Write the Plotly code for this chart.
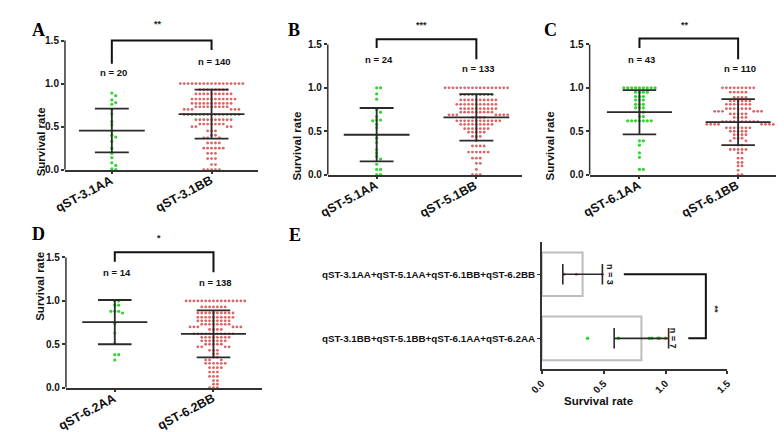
import plotly.graph_objects as go

W, H = 784, 432

# ---------------- data ----------------
A_groups = ["qST-3.1AA", "qST-3.1BB"]
A_AA_values = [0.89, 0.86, 0.81, 0.78, 0.76, 0.70, 0.65, 0.56, 0.52, 0.45,
               0.40, 0.38, 0.33, 0.25, 0.19, 0.14, 0.08, 0.05, 0.01, 0.0]
A_BB_levels = [1.0, 0.93, 0.88, 0.82, 0.77, 0.73, 0.70, 0.64, 0.58, 0.53,
               0.50, 0.45, 0.40, 0.37, 0.31, 0.25, 0.19, 0.13, 0.06, 0.0]
A_BB_counts = [17, 8, 10, 12, 11, 9, 6, 15, 10, 7, 4, 3, 2, 3, 4, 6, 3, 3, 2, 5]
A_means = [0.455, 0.645]
A_sds = [0.254, 0.284]
A_n = [20, 140]
A_sig = "**"

B_groups = ["qST-5.1AA", "qST-5.1BB"]
B_AA_values = [1.0, 1.0, 0.93, 0.87, 0.75, 0.72, 0.67, 0.63, 0.63, 0.62, 0.58, 0.54,
               0.46, 0.42, 0.37, 0.29, 0.25, 0.21, 0.18, 0.12, 0.06, 0.06, 0.0, 0.0]
B_BB_levels = [1.0, 0.92, 0.86, 0.81, 0.76, 0.72, 0.69, 0.66, 0.62, 0.58,
               0.53, 0.49, 0.44, 0.39, 0.33, 0.26, 0.19, 0.13, 0.06, 0.0]
B_BB_counts = [17, 9, 10, 11, 10, 9, 7, 4, 12, 9, 7, 5, 3, 1, 4, 6, 3, 2, 1, 3]
B_means = [0.46, 0.66]
B_sds = [0.308, 0.267]
B_n = [24, 133]
B_sig = "***"

C_groups = ["qST-6.1AA", "qST-6.1BB"]
C_AA_levels = [1.0, 0.95, 0.90, 0.86, 0.81, 0.77, 0.72, 0.67, 0.62, 0.39, 0.34, 0.25, 0.20, 0.06]
C_AA_counts = [9, 4, 3, 3, 3, 3, 2, 2, 7, 2, 1, 1, 1, 2]
C_BB_levels = [1.0, 0.95, 0.89, 0.85, 0.81, 0.76, 0.73, 0.70, 0.66, 0.61, 0.58, 0.54,
               0.50, 0.46, 0.42, 0.39, 0.34, 0.29, 0.25, 0.19, 0.14, 0.10, 0.05, 0.0]
C_BB_counts = [9, 5, 4, 6, 7, 7, 6, 5, 4, 10, 8, 7, 5, 4, 3, 2, 2, 5, 2, 2, 2, 2, 1, 2]
C_means = [0.72, 0.605]
C_sds = [0.255, 0.265]
C_n = [43, 110]
C_sig = "**"

D_groups = ["qST-6.2AA", "qST-6.2BB"]
D_AA_values = [1.0, 1.0, 0.95, 0.95, 0.88, 0.88, 0.88, 0.86, 0.74, 0.63, 0.51, 0.38, 0.38, 0.32]
D_BB_levels = [1.0, 0.93, 0.86, 0.81, 0.77, 0.73, 0.70, 0.67, 0.62, 0.58, 0.54, 0.50,
               0.47, 0.43, 0.39, 0.35, 0.32, 0.28, 0.23, 0.18, 0.13, 0.08, 0.04, 0.0]
D_BB_counts = [16, 7, 10, 10, 9, 8, 6, 4, 11, 8, 7, 5, 4, 3, 2, 2, 3, 6, 4, 3, 3, 2, 2, 3]
D_means = [0.755, 0.62]
D_sds = [0.255, 0.27]
D_n = [14, 138]
D_sig = "*"

E_groups = ["qST-3.1BB+qST-5.1BB+qST-6.1AA+qST-6.2AA",
            "qST-3.1AA+qST-5.1AA+qST-6.1BB+qST-6.2BB"]
E_values_0 = [0.37, 0.62, 0.87, 0.89, 0.94, 0.95, 1.0]
E_values_1 = [0.18, 0.28, 0.49]
E_means = [0.805, 0.33]
E_sds = [0.22, 0.16]
E_n = [7, 3]
E_sig = "**"

# ---------------- styles ----------------
GREEN = "#33d433"
RED = "#dc6464"
DARK = "#2a2a2a"
AXC = "#333333"
FONT = "Liberation Sans"
SERIF = "Liberation Serif"
XLAB_ANGLE = -28
XLAB_SIZE = 12.5


def bold(lst):
    return [f"<b>{t}</b>" for t in lst]


def expand(levels, counts):
    out = []
    for v, c in zip(levels, counts):
        out += [v] * c
    return out


def swarm(values, xpx, ypx, step=4.0, r=2.8):
    placed = []
    offs = [0.0] * len(values)
    order = sorted(range(len(values)), key=lambda i: -values[i])
    cands = [0.0]
    for j in range(1, 80):
        cands += [j * step, -j * step]
    for i in order:
        y = values[i] * ypx
        for c in cands:
            if all((c - px) ** 2 + (y - py) ** 2 >= r * r for px, py in placed):
                break
        placed.append((c, y))
        offs[i] = c / xpx
    return offs


def px_x(p):
    return p / W


def px_y(p):
    return 1 - p / H


panels = [
    dict(letter="A", letter_xy=(9, 10), box=(45, 243, 10, 164, 33), xr=(-0.47, 1.47),
         groups=A_groups, data=[A_AA_values, expand(A_BB_levels, A_BB_counts)],
         means=A_means, sds=A_sds, n=A_n, sig=A_sig, title_x=12,
         br=1.5, legs=(1.23, 1.39), ny=(1.13, 1.26), sigxy=(0.46, 1.69)),
    dict(letter="B", letter_xy=(279, 10), box=(314, 513, 10, 169, 37), xr=(-0.49, 1.46),
         groups=B_groups, data=[B_AA_values, expand(B_BB_levels, B_BB_counts)],
         means=B_means, sds=B_sds, n=B_n, sig=B_sig, title_x=283,
         br=1.56, legs=(1.46, 1.33), ny=(1.33, 1.22), sigxy=(0.45, 1.73)),
    dict(letter="C", letter_xy=(551, 10), box=(582, 778, 10, 169, 37), xr=(-0.505, 1.436),
         groups=C_groups, data=[expand(C_AA_levels, C_AA_counts), expand(C_BB_levels, C_BB_counts)],
         means=C_means, sds=C_sds, n=C_n, sig=C_sig, title_x=550,
         br=1.57, legs=(1.46, 1.33), ny=(1.33, 1.22), sigxy=(0.465, 1.73)),
    dict(letter="D", letter_xy=(9, 229), box=(46, 247, 225, 385, 253), xr=(-0.495, 1.495),
         groups=D_groups, data=[D_AA_values, expand(D_BB_levels, D_BB_counts)],
         means=D_means, sds=D_sds, n=D_n, sig=D_sig, title_x=11,
         br=1.56, legs=(1.45, 1.33), ny=(1.33, 1.21), sigxy=(0.45, 1.72)),
]

MEAN_HW = 0.33
CAP_HW = 0.17

fig = go.Figure()
layout = dict(width=W, height=H, margin=dict(l=0, r=0, t=0, b=0),
              paper_bgcolor="white", plot_bgcolor="white", showlegend=False,
              font=dict(family=FONT, color="#111111"))
annotations = []
shapes = []

for k, p in enumerate(panels, start=1):
    x0, x1, yt, yb, y15 = p["box"]
    ppu_y = (yb - y15) / 1.5
    ytop = (yb - yt) / ppu_y
    ppu_x = (x1 - x0) / (p["xr"][1] - p["xr"][0])
    xa = "x" if k == 1 else f"x{k}"
    ya = "y" if k == 1 else f"y{k}"
    layout["xaxis" if k == 1 else f"xaxis{k}"] = dict(
        domain=[px_x(x0), px_x(x1)], range=list(p["xr"]), anchor=ya,
        tickvals=[0, 1], showticklabels=False,
        showline=True, linecolor=AXC, linewidth=1.5, ticks="outside", ticklen=3,
        tickcolor=AXC, tickwidth=1.5, showgrid=False, zeroline=False)
    layout["yaxis" if k == 1 else f"yaxis{k}"] = dict(
        domain=[px_y(yb), px_y(yt)], range=[0, ytop], anchor=xa,
        tickvals=[0, 0.5, 1.0, 1.5], ticktext=bold(["0.0", "0.5", "1.0", "1.5"]),
        tickfont=dict(size=10, family=FONT, color="#111"),
        showline=False, ticks="outside", ticklen=3, tickcolor=AXC, tickwidth=1.5,
        showgrid=False, zeroline=False)
    # rotated category labels, their upper-right end at the tick
    for g in range(2):
        annotations.append(dict(x=g, y=0, xref=xa, yref=ya, xshift=5, yshift=-2,
                                xanchor="right", yanchor="top", textangle=XLAB_ANGLE,
                                text=f"<b>{p['groups'][g]}</b>", showarrow=False,
                                borderpad=0,
                                font=dict(size=XLAB_SIZE, family=FONT, color="#111")))
    # y axis line only up to 1.5
    shapes.append(dict(type="line", xref=f"{xa} domain", yref=ya, x0=0, x1=0, y0=0, y1=1.5,
                       line=dict(color=AXC, width=1.5)))
    colors = [GREEN, RED]
    for g, vals in enumerate(p["data"]):
        offs = swarm(vals, ppu_x, ppu_y)
        fig.add_trace(go.Scatter(
            x=[g + o for o in offs], y=vals, mode="markers", xaxis=xa, yaxis=ya,
            marker=dict(color=colors[g], size=3.2 if g == 0 else 2.8, line=dict(width=0)),
            cliponaxis=False, hoverinfo="skip"))
    # mean and SD
    lx, ly = [], []
    for g in range(2):
        m, s = p["means"][g], p["sds"][g]
        lx += [g - MEAN_HW, g + MEAN_HW, None, g, g, None,
               g - CAP_HW, g + CAP_HW, None, g - CAP_HW, g + CAP_HW, None]
        ly += [m, m, None, m - s, m + s, None, m + s, m + s, None, m - s, m - s, None]
    fig.add_trace(go.Scatter(x=lx, y=ly, mode="lines", xaxis=xa, yaxis=ya,
                             line=dict(color=DARK, width=1.8), hoverinfo="skip"))
    # significance bracket
    fig.add_trace(go.Scatter(x=[0, 0, 1, 1], y=[p["legs"][0], p["br"], p["br"], p["legs"][1]],
                             mode="lines", xaxis=xa, yaxis=ya,
                             line=dict(color="#111", width=2), hoverinfo="skip"))
    annotations.append(dict(x=p["sigxy"][0], y=p["sigxy"][1], xref=xa, yref=ya,
                            text=f"<b>{p['sig']}</b>", showarrow=False,
                            font=dict(size=9, family=FONT, color="#222")))
    for g in range(2):
        annotations.append(dict(x=g + 0.02, y=p["ny"][g], xref=xa, yref=ya,
                                text=f"<b>n = {p['n'][g]}</b>", showarrow=False,
                                font=dict(size=9.5, family=FONT, color="#111")))
    # y title centred on 0..1.5
    annotations.append(dict(x=px_x(p["title_x"]), y=px_y((yb + y15) / 2), xref="paper", yref="paper",
                            text="<b>Survival rate</b>", textangle=-90, showarrow=False,
                            font=dict(size=11.5, family=FONT, color="#111")))
    annotations.append(dict(x=px_x(p["letter_xy"][0]), y=px_y(p["letter_xy"][1]),
                            xref="paper", yref="paper", text=f"<b>{p['letter']}</b>",
                            showarrow=False, font=dict(size=18, family=SERIF, color="#000")))

# ---------------- panel E ----------------
ex0, ex1, eyt, eyb = 533, 723, 237, 366
layout["xaxis5"] = dict(domain=[px_x(ex0), px_x(ex1)], range=[0, 1.5], anchor="y5",
                        tickvals=[0, 0.5, 1.0, 1.5], ticktext=bold(["0.0", "0.5", "1.0", "1.5"]),
                        tickangle=-45, tickfont=dict(size=10, family=FONT, color="#111"),
                        showline=True, linecolor=AXC, linewidth=1.5, ticks="outside",
                        ticklen=3, tickcolor=AXC, tickwidth=1.5, showgrid=False, zeroline=False)
layout["yaxis5"] = dict(domain=[px_y(eyb), px_y(eyt)], range=[-0.477, 1.508], anchor="x5",
                        tickvals=[0, 1], ticktext=bold(E_groups),
                        tickfont=dict(size=9.8, family=FONT, color="#111"),
                        showline=True, linecolor=AXC, linewidth=1.5, ticks="outside",
                        ticklen=3, tickcolor=AXC, showgrid=False, zeroline=False)

fig.add_trace(go.Bar(x=E_means, y=[0, 1], orientation="h", width=0.68, xaxis="x5", yaxis="y5",
                     marker=dict(color="white", line=dict(color="#bdbdbd", width=2)),
                     hoverinfo="skip"))
fig.add_trace(go.Scatter(x=E_values_0, y=[0] * len(E_values_0), mode="markers", xaxis="x5",
                         yaxis="y5", marker=dict(color=GREEN, size=3.5), cliponaxis=False,
                         hoverinfo="skip"))
fig.add_trace(go.Scatter(x=E_values_1, y=[1] * len(E_values_1), mode="markers", xaxis="x5",
                         yaxis="y5", marker=dict(color=RED, size=3.2), cliponaxis=False,
                         hoverinfo="skip"))
ECAP = 0.16
ex, ey = [], []
for g in range(2):
    m, s = E_means[g], E_sds[g]
    ex += [m - s, m + s, None, m - s, m - s, None, m + s, m + s, None]
    ey += [g, g, None, g - ECAP, g + ECAP, None, g - ECAP, g + ECAP, None]
fig.add_trace(go.Scatter(x=ex, y=ey, mode="lines", xaxis="x5", yaxis="y5",
                         line=dict(color=DARK, width=1.6), hoverinfo="skip"))
fig.add_trace(go.Scatter(x=[0.663, 1.326, 1.326, 1.184], y=[1, 1, 0, 0], mode="lines",
                         xaxis="x5", yaxis="y5", line=dict(color="#111", width=2),
                         hoverinfo="skip"))
annotations.append(dict(x=1.40, y=0.45, xref="x5", yref="y5", text=f"<b>{E_sig}</b>",
                        textangle=90, showarrow=False, font=dict(size=9, family=FONT, color="#222")))
for g, xx in zip(range(2), [1.058, 0.553]):
    annotations.append(dict(x=xx, y=g, xref="x5", yref="y5", text=f"<b>n = {E_n[g]}</b>",
                            textangle=90, showarrow=False,
                            font=dict(size=9, family=FONT, color="#111")))
annotations.append(dict(x=px_x(628), y=px_y(407), xref="paper", yref="paper",
                        text="<b>Survival rate</b>", showarrow=False,
                        font=dict(size=11.5, family=FONT, color="#111")))
annotations.append(dict(x=px_x(280), y=px_y(230), xref="paper", yref="paper", text="<b>E</b>",
                        showarrow=False, font=dict(size=18, family=SERIF, color="#000")))

layout["annotations"] = annotations
layout["shapes"] = shapes
fig.update_layout(**layout)
fig.write_html("out.html")
